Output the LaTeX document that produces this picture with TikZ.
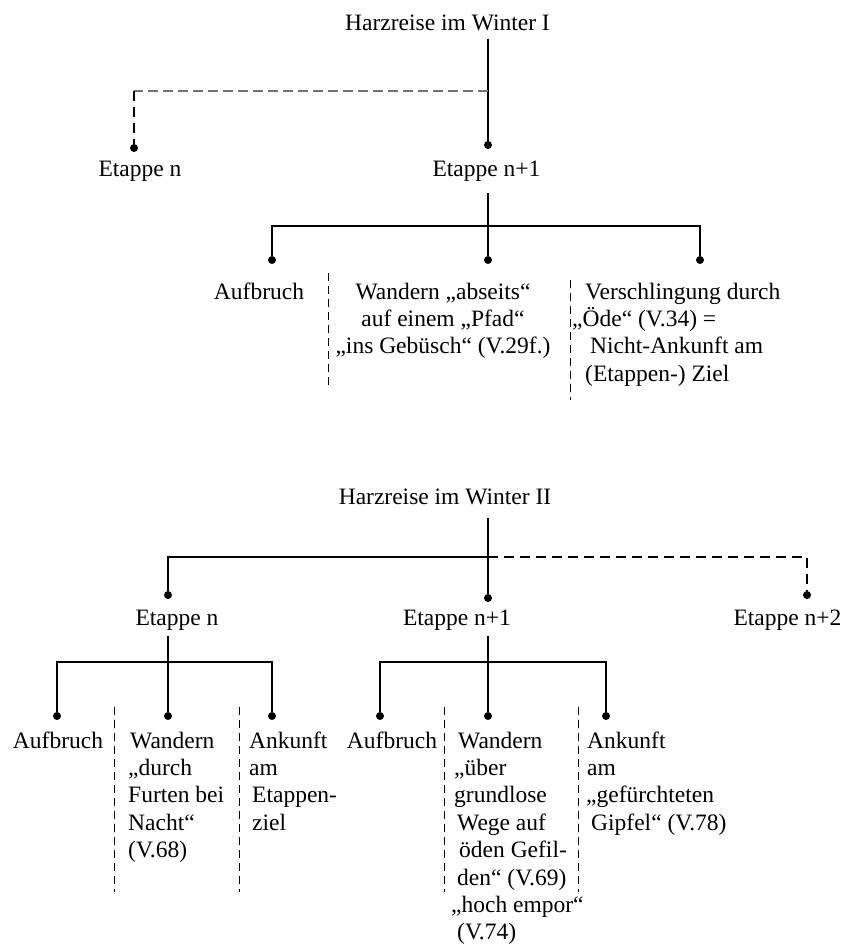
\documentclass[tikz,border=0pt]{standalone}
\usepackage{fontspec}
\setmainfont{Liberation Serif}
\begin{document}
\begin{tikzpicture}[x=1pt,y=-1pt,
  txt/.style={font=\fontsize{23.5}{27.4}\selectfont, inner sep=0pt},
  blk/.style={txt, align=left, anchor=north west},
  cblk/.style={txt, align=center, anchor=north},
  dotn/.style={circle, fill=black, inner sep=0pt, minimum size=8pt},
  conn/.style={line width=1.3pt},
  dconn/.style={line width=1.3pt, dash pattern=on 10pt off 6pt},
  gdash/.style={line width=1.3pt, black!55, dash pattern=on 10pt off 5pt},
  sepline/.style={line width=0.8pt, dash pattern=on 8pt off 5pt}]
\path[fill=white,use as bounding box] (0,0) rectangle (845,944);

% ---------- Part I ----------
\node[txt, anchor=base] (t1) at (447.5,31) {Harzreise im Winter I};
\coordinate (t1b) at (488,39);
\coordinate (j1) at (488,91);
\node[dotn] (d1n) at (134,148) {};
\node[dotn] (d1m) at (488,145) {};
\draw[conn] (t1b) -- (d1m);
\draw[gdash] (j1) -- (j1 -| d1n);
\draw[dconn] (j1 -| d1n) -- (d1n);
\node[txt, anchor=base] (e1n) at (140,176) {Etappe n};
\node[txt, anchor=base] (e1m) at (486.5,176) {Etappe n+1};

\coordinate (e1mb) at (488,193);
\coordinate (j2) at (488,226);
\node[dotn] (a1) at (272,260) {};
\node[dotn] (w1) at (488,260) {};
\node[dotn] (v1) at (700,260) {};
\draw[conn] (e1mb) -- (w1);
\draw[conn] (a1) -- (a1 |- j2) -- (v1 |- j2) -- (v1);

\node[txt, anchor=base] (ta1) at (259,299) {Aufbruch};
\node[cblk] (tw1) at (443,279.8) {\strut Wandern „abseits“\\\strut auf einem „Pfad“\\\strut „ins Gebüsch“ (V.29f.)};
\node[blk] (tv1) at (572,279.8) {\hspace*{13pt}\strut Verschlingung durch\\\strut „Öde“ (V.34) =\\\hspace*{18pt}\strut Nicht-Ankunft am\\\hspace*{13pt}\strut (Etappen-) Ziel};

\coordinate (s1a) at (328,273); \coordinate (s1b) at (328,390);
\coordinate (s2a) at (570,280); \coordinate (s2b) at (570,400);
\draw[sepline] (s1a) -- (s1b);
\draw[sepline] (s2a) -- (s2b);

% ---------- Part II ----------
\node[txt, anchor=base] (t2) at (445,504) {Harzreise im Winter II};
\coordinate (t2b) at (488,518);
\coordinate (j3) at (488,557);
\node[dotn] (d2n) at (168,595) {};
\node[dotn] (d2m) at (488,598) {};
\node[dotn] (d2p) at (807,595) {};
\draw[conn] (t2b) -- (d2m);
\draw[conn] (d2n) |- (j3);
\draw[dconn] (j3) -| (d2p);
\node[txt, anchor=base] (e2n) at (177,625) {Etappe n};
\node[txt, anchor=base] (e2m) at (457,625) {Etappe n+1};
\node[txt, anchor=base] (e2p) at (787.5,625) {Etappe n+2};

\coordinate (e2nb) at (168,636);
\coordinate (j4) at (168,662);
\node[dotn] (a2) at (57,716) {};
\node[dotn] (w2) at (168,716) {};
\node[dotn] (k2) at (272,716) {};
\draw[conn] (e2nb) -- (w2);
\draw[conn] (a2) -- (a2 |- j4) -- (k2 |- j4) -- (k2);

\coordinate (e2mb) at (488,636);
\coordinate (j5) at (488,662);
\node[dotn] (a3) at (380,716) {};
\node[dotn] (w3) at (488,716) {};
\node[dotn] (k3) at (606,716) {};
\draw[conn] (e2mb) -- (w3);
\draw[conn] (a3) -- (a3 |- j5) -- (k3 |- j5) -- (k3);

\node[txt, anchor=base] (ta2) at (58,748) {Aufbruch};
\node[blk] (tw2) at (128,728.8) {\hspace*{2pt}\strut Wandern\\\strut „durch\\\strut Furten bei\\\strut Nacht“\\\strut (V.68)};
\node[blk] (tk2) at (249,728.8) {\strut Ankunft\\\strut am\\\hspace*{3pt}\strut Etappen-\\\hspace*{3pt}\strut ziel};
\node[txt, anchor=base] (ta3) at (392,748) {Aufbruch};
\node[blk] (tw3) at (451,728.8) {\hspace*{7pt}\strut Wandern\\\hspace*{3pt}\strut „über\\\hspace*{3pt}\strut grundlose\\\hspace*{6pt}\strut Wege auf\\\hspace*{8pt}\strut öden Gefil-\\\hspace*{6pt}\strut den“ (V.69)\\\strut „hoch empor“\\\hspace*{6pt}\strut (V.74)};
\node[blk] (tk3) at (587,728.8) {\strut Ankunft\\\strut am\\\hspace*{-1pt}\strut „gefürchteten\\\hspace*{4pt}\strut Gipfel“ (V.78)};

\coordinate (s3a) at (114,707); \coordinate (s3b) at (114,892);
\coordinate (s4a) at (239,707); \coordinate (s4b) at (239,892);
\coordinate (s5a) at (444,707); \coordinate (s5b) at (444,892);
\coordinate (s6a) at (578,707); \coordinate (s6b) at (578,892);
\draw[sepline] (s3a) -- (s3b);
\draw[sepline] (s4a) -- (s4b);
\draw[sepline] (s5a) -- (s5b);
\draw[sepline] (s6a) -- (s6b);
\end{tikzpicture}
\end{document}
